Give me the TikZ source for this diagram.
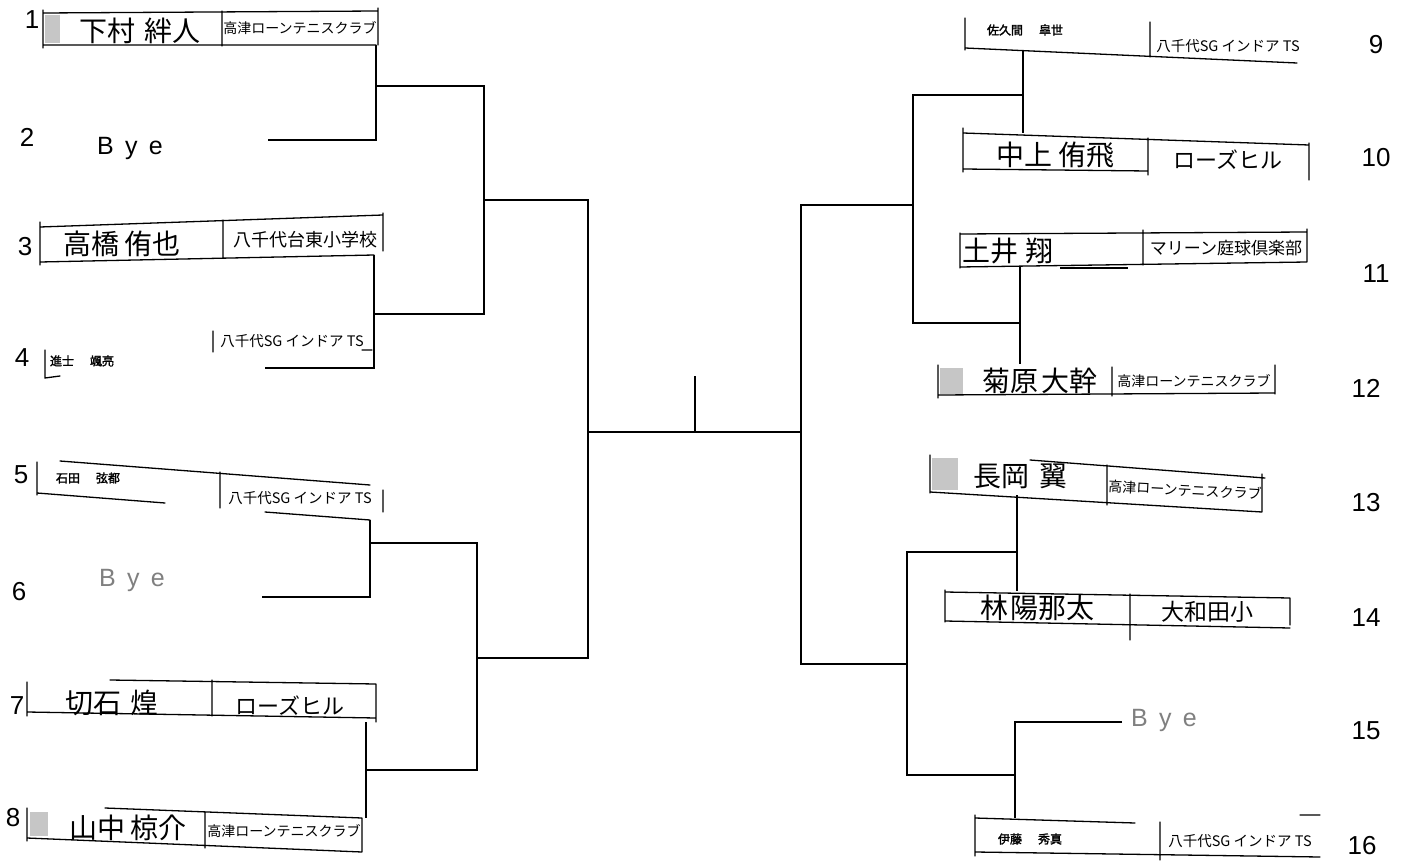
\documentclass[tikz,border=0pt]{standalone}
\usepackage{fontspec}
\setmainfont{Liberation Sans}
\newfontfamily\jp{Noto Sans CJK JP}
\newfontfamily\jpb[FakeBold=2]{Noto Sans CJK JP}
\newfontfamily\byefont[LetterSpace=45]{Liberation Sans}
\begin{document}
\begin{tikzpicture}[x=1pt,y=-1pt,
  ln/.style={line width=1.3pt,line cap=round},
  br/.style={line width=1.9pt,line join=miter},
  num/.style={font=\fontsize{26}{26}\selectfont,inner sep=0pt},
  hname/.style={font=\jp\fontsize{28}{28}\selectfont,inner sep=0pt},
  pname/.style={font=\jpb\fontsize{12}{12}\selectfont,inner sep=0pt},
  club/.style={font=\jp\fontsize{14}{14}\selectfont,inner sep=0pt},
  sgclub/.style={font=\jp\fontsize{14.5}{14.5}\selectfont,inner sep=0pt},
  bye/.style={font=\byefont\fontsize{25}{25}\selectfont,inner sep=0pt},
  patch/.style={fill=gray!45}]
\useasboundingbox (0,0) rectangle (1413,861);
\fill[white] (0,0) rectangle (1413,861);

% ---------------- numbers
\node[num] (n1) at (32,20) {1};
\node[num] (n2) at (27,137) {2};
\node[num] (n3) at (25,247) {3};
\node[num] (n4) at (22,358) {4};
\node[num] (n5) at (21,475) {5};
\node[num] (n6) at (19,592) {6};
\node[num] (n7) at (17,706) {7};
\node[num] (n8) at (13,818) {8};
\node[num] (n9) at (1376,45) {9};
\node[num] (n10) at (1376,158) {10};
\node[num] (n11) at (1376,274) {11};
\node[num] (n12) at (1366,388) {12};
\node[num] (n13) at (1366,503) {13};
\node[num] (n14) at (1366,618) {14};
\node[num] (n15) at (1366,731) {15};
\node[num] (n16) at (1362,846) {16};

% ---------------- left entries
% 1
\fill[patch] (45,15) rectangle (60,43);
\draw[ln] (43,13) -- (378,11) (43,45) -- (376,45) (43,10) -- (43,48) (222,11) -- (222,46) (378,8) -- (378,45);
\node[hname] (e1) at (140,31) {下村\hspace{10pt}絆人};
\node[club] (c1) at (300,28) {高津ローンテニスクラブ};
% 2
\node[bye] (e2) at (130,148) {Bye};
% 3
\draw[ln] (40,227) -- (383,215) (40,262) -- (374,255) (40,222) -- (40,265) (223,220) -- (223,258) (383,213) -- (383,251);
\node[hname] (e3) at (122,244) {高橋\hspace{6pt}侑也};
\node[font=\jp\fontsize{18}{18}\selectfont,inner sep=0pt] (c3) at (305,240) {八千代台東小学校};
% 4
\draw[ln] (45,350) -- (45,378) -- (60,376) (213,331) -- (213,352) (362,350) -- (372,350);
\node[pname] (e4) at (82,361) {進士\hspace{16pt}颯亮};
\node[sgclub] (c4) at (292,341) {八千代SG インドア TS};
% 5
\draw[ln] (60,461) -- (370,485) (37,493) -- (165,503) (265,512) -- (370,520) (37,462) -- (37,495) (220,472) -- (220,508) (383,490) -- (383,512);
\node[pname] (e5) at (88,478) {石田\hspace{16pt}弦都};
\node[sgclub] (c5) at (300,498) {八千代SG インドア TS};
% 6
\node[bye,gray] (e6) at (132,580) {Bye};
% 7
\draw[ln] (110,680) -- (376,684) (27,712) -- (376,718) (27,682) -- (27,716) (212,680) -- (212,716) (376,684) -- (376,722);
\node[hname] (e7) at (112,703) {切石\hspace{10pt}煌};
\node[font=\jp\fontsize{22}{22}\selectfont,inner sep=0pt] (c7) at (290,706) {ローズヒル};
% 8
\fill[patch] (30,812) rectangle (48,836);
\draw[ln] (105,808) -- (362,818) (27,838) -- (362,852) (27,808) -- (27,841) (205,812) -- (205,848) (362,818) -- (362,852);
\node[hname] (e8) at (128,828) {山中\hspace{6pt}椋介};
\node[club] (c8) at (284,831) {高津ローンテニスクラブ};

% ---------------- right entries
% 9
\draw[ln] (965,18) -- (965,50) (965,48) -- (1297,63) (1150,22) -- (1150,57);
\node[pname] (e9) at (1025,30) {佐久間\hspace{16pt}皐世};
\node[sgclub] (c9) at (1228,46) {八千代SG インドア TS};
% 10
\draw[ln] (963,133) -- (1309,145) (963,169) -- (1148,171) (963,128) -- (963,172) (1148,138) -- (1148,175) (1309,143) -- (1309,180);
\node[hname] (e10) at (1055,155) {中上\hspace{6pt}侑飛};
\node[font=\jp\fontsize{22}{22}\selectfont,inner sep=0pt] (c10) at (1228,160) {ローズヒル};
% 11
\draw[ln] (960,234) -- (1307,232) (960,267) -- (1307,262) (960,233) -- (960,268) (1143,230) -- (1143,265) (1307,229) -- (1307,262);
\draw[line width=2.2pt] (1060,268) -- (1128,268);
\node[hname] (e11) at (1008,251) {土井\hspace{8pt}翔};
\node[font=\jp\fontsize{17}{17}\selectfont,inner sep=0pt] (c11) at (1226,248) {マリーン庭球倶楽部};
% 12
\fill[patch] (940,368) rectangle (963,394);
\draw[ln] (938,365) -- (938,398) (938,395) -- (1275,393) (1112,367) -- (1112,396) (1275,365) -- (1275,394);
\node[hname] (e12) at (1040,381) {菊原\hspace{4pt}大幹};
\node[club] (c12) at (1194,381) {高津ローンテニスクラブ};
% 13
\fill[patch] (932,458) rectangle (958,490);
\draw[ln] (1030,460) -- (1265,478) (930,492) -- (1262,512) (930,455) -- (930,493) (1107,465) -- (1107,505) (1262,474) -- (1262,512);
\node[hname] (e13) at (1020,476) {長岡\hspace{10pt}翼};
\node[club,rotate=-3] (c13) at (1185,490) {高津ローンテニスクラブ};
% 14
\draw[ln] (945,592) -- (1290,598) (945,621) -- (1290,628) (945,590) -- (945,622) (1130,594) -- (1130,640) (1290,598) -- (1290,625);
\node[hname] (e14) at (1037,608) {林\hspace{2pt}陽那太};
\node[font=\jp\fontsize{23}{23}\selectfont,inner sep=0pt] (c14) at (1207,612) {大和田小};
% 15
\node[bye,gray] (e15) at (1164,720) {Bye};
% 16
\draw[ln] (975,818) -- (1135,823) (975,852) -- (1320,857) (975,815) -- (975,856) (1160,822) -- (1160,860) (1300,815) -- (1320,815);
\node[pname] (e16) at (1030,839) {伊藤\hspace{16pt}秀真};
\node[sgclub] (c16) at (1240,841) {八千代SG インドア TS};

% ---------------- bracket coordinates (left)
\coordinate (a1) at (376,45);   \coordinate (a2) at (268,140);
\coordinate (a12) at (376,86);  \coordinate (b1) at (484,86);
\coordinate (a3) at (374,255);  \coordinate (a4) at (265,368);
\coordinate (a34) at (374,314); \coordinate (b2) at (484,314);
\coordinate (b12) at (484,200); \coordinate (s1) at (588,200);
\coordinate (a5) at (370,520);  \coordinate (a6) at (262,597);
\coordinate (a56) at (370,543); \coordinate (b3) at (477,543);
\coordinate (a7) at (366,722);  \coordinate (a8) at (366,818);
\coordinate (a78) at (366,770); \coordinate (b4) at (477,770);
\coordinate (b34) at (477,658); \coordinate (s2) at (588,658);
\coordinate (f1) at (588,432);  \coordinate (f2) at (801,432);
\coordinate (ft) at (695,376);  \coordinate (fm) at (695,432);
% right
\coordinate (d9) at (1023,50);  \coordinate (d10) at (1023,133);
\coordinate (d910) at (1023,95); \coordinate (g1) at (913,95);
\coordinate (d11) at (1020,267); \coordinate (d12) at (1020,364);
\coordinate (d1112) at (1020,323); \coordinate (g2) at (913,323);
\coordinate (g12) at (913,205); \coordinate (t1) at (801,205);
\coordinate (d13) at (1017,495); \coordinate (d14) at (1017,591);
\coordinate (d1314) at (1017,552); \coordinate (g3) at (907,552);
\coordinate (d15) at (1122,722); \coordinate (d15a) at (1015,722);
\coordinate (d16) at (1015,818); \coordinate (d1516) at (1015,775);
\coordinate (g4) at (907,775);  \coordinate (g34) at (907,664);
\coordinate (t2) at (801,664);

% ---------------- connectors
\draw[br] (a1) |- (a2);
\draw[br] (a12) -- (b1) |- (a34);
\draw[br] (a3) |- (a4);
\draw[br] (b12) -- (s1) |- (b34);
\draw[br] (a5) |- (a6);
\draw[br] (a56) -- (b3) |- (a78);
\draw[br] (a7) -- (a8);
\draw[br] (f1) -- (f2);
\draw[br] (ft) -- (fm);
\draw[br] (d9) -- (d10);
\draw[br] (d910) -- (g1) |- (d1112);
\draw[br] (d11) -- (d12);
\draw[br] (g12) -- (t1) |- (g34);
\draw[br] (d13) -- (d14);
\draw[br] (d1314) -- (g3) |- (d1516);
\draw[br] (d15) -- (d15a) -- (d16);
\end{tikzpicture}
\end{document}
